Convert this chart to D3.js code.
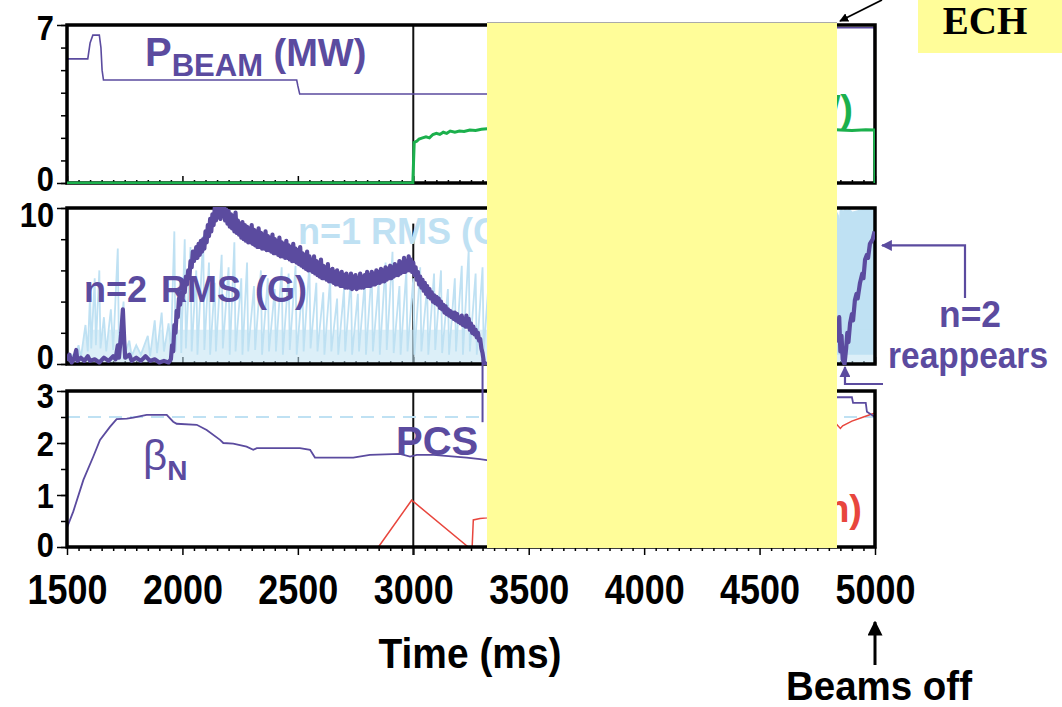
<!DOCTYPE html>
<html><head><meta charset="utf-8">
<script src="https://cdn.jsdelivr.net/npm/d3@7"></script>
<style>body{margin:0;background:#fff} svg{display:block}</style>
</head><body><svg id="c" width="1062" height="707"></svg>
<script>
// ---------------- data ----------------
const timeTicks = [1500, 2000, 2500, 3000, 3500, 4000, 4500, 5000];
const topTickLabels = [0, 7];
const midTickLabels = [0, 10];
const botTickLabels = [0, 1, 2, 3];
const betaRef = 2.5;
const markerTime = 3000;
const pcsTime = 3300;

const pBeam = [[1500,5.5],[1590,5.5],[1600,6.2],[1612,6.55],[1640,6.55],[1647,6.0],[1652,5.0],[1658,4.56],[2495,4.56],[2500,4.3],[2508,3.94],[4800,3.94],[4810,6.88],[4998,6.88],[5000,0]];

const pEch = [[1500,0],[2998,0],[3004,1.8],[3015,1.85],[3025,1.95],[3040,2.0],[3055,2.05],[3070,2.0],[3085,2.15],[3100,2.2],[3115,2.15],[3130,2.25],[3145,2.2],[3160,2.3],[3180,2.25],[3200,2.3],[3220,2.28],[3245,2.35],[3270,2.33],[3295,2.38],[3320,2.4],[4800,2.38],[4850,2.35],[4900,2.33],[4960,2.36],[4998,2.35],[5000,0]];

const n1Rms = [[1500,0.3],[1520,0.6],[1530,0.3],[1550,1.2],[1560,0.4],[1580,2.5],[1590,0.8],[1600,4.5],[1605,1.0],[1620,5.5],[1625,1.2],[1640,6.0],[1645,1.0],[1660,3.0],[1670,0.8],[1690,3.5],[1700,0.9],[1720,7.4],[1725,1.0],[1745,4.0],[1750,0.6],[1770,1.5],[1780,0.5],[1800,1.2],[1820,0.6],[1850,1.8],[1860,0.5],[1880,2.8],[1890,0.7],[1910,3.3],[1920,0.8],[1940,2.6],[1950,1.0],
[1965,8.5],[1970,0.8],[1990,5.5],[1995,0.7],[2010,8.0],[2015,1.0],[2035,7.5],[2040,0.8],[2060,6.0],[2065,0.6],[2090,8.2],[2095,0.9],[2115,6.5],[2120,0.6],[2140,5.2],[2145,0.8],[2170,7.0],[2175,1.0],[2200,6.2],[2205,0.6],[2225,7.8],[2230,0.8],[2255,5.5],[2260,0.6],[2280,6.5],[2285,0.8],[2310,5.0],[2315,0.9],[2340,6.0],[2345,0.6],[2370,5.5],[2375,0.8],[2400,4.8],[2405,0.8],[2430,6.2],[2435,0.6],[2460,5.8],[2465,0.9],[2490,6.3],[2495,0.6],[2520,5.0],[2525,0.8],[2550,6.4],[2555,1.0],[2580,5.2],[2585,0.8],[2610,4.6],[2615,0.6],[2640,5.5],[2645,0.8],[2670,4.2],[2675,0.6],[2700,4.8],[2705,0.8],[2730,5.6],[2735,0.6],[2760,4.5],[2765,0.8],[2790,5.3],[2795,0.6],[2820,6.0],[2825,0.8],[2850,5.2],[2855,0.6],[2880,6.5],[2885,0.9],[2910,7.2],[2915,0.7],[2940,5.0],[2945,0.6],[2970,6.0],[2975,0.8],[3000,5.5],[3005,0.6],[3030,6.2],[3035,0.8],[3060,5.0],[3065,0.6],[3090,5.8],[3095,0.9],[3120,6.0],[3125,0.7],[3150,4.8],[3155,0.6],[3180,5.5],[3185,0.8],[3210,6.3],[3215,0.6],[3240,7.3],[3245,0.8],[3270,5.8],[3275,0.6],[3300,6.2],[3305,0.8],[3330,6.0],
[4830,9.8],[4840,9.5],[4845,8.0],[4850,9.8],[4855,9.9],[4860,9.7],[4870,9.9],[4880,9.8],[4890,9.9],[4900,9.7],[4950,9.9],[5000,9.9]];

const n2Rms = [[1500,0.2],[1510,0.6],[1520,0.1],[1530,0.3],[1540,0.9],[1545,0.2],[1560,0.4],[1575,0.2],[1590,0.5],[1600,0.2],[1620,0.3],[1640,0.1],[1660,0.4],[1680,0.2],[1700,0.5],[1710,0.3],[1720,1.2],[1725,0.4],[1735,2.0],[1742,3.5],[1748,1.5],[1752,0.4],[1770,0.6],[1780,0.2],[1800,0.4],[1820,0.2],[1840,0.5],[1860,0.2],[1880,0.3],[1900,0.1],[1920,0.2],[1940,0.1],
[1950,0.3],[1955,1.2],[1960,0.8],[1965,2.5],[1970,2.0],[1975,3.4],[1980,3.0],[1985,4.2],[1990,3.8],[1995,4.6],[2000,4.1],[2005,5.0],[2010,4.6],[2015,5.6],[2020,5.1],[2025,6.0],[2030,5.5],[2035,6.6],[2040,6.2],[2045,7.2],[2050,6.6],[2060,7.5],[2065,6.8],[2070,7.7],[2075,7.0],[2080,7.9],[2085,7.2],[2090,8.0],[2095,7.4],[2100,8.5],[2105,7.8],[2110,8.9],[2115,8.2],[2120,9.3],[2125,8.5],[2130,9.6],[2135,8.9],[2140,10.0],[2145,9.2],[2150,10.0],[2155,9.4],[2160,10.0],[2165,9.3],[2170,10.0],[2175,9.5],[2180,10.0],[2185,9.2],[2190,9.9],[2195,9.0],[2200,9.8],[2205,8.8],[2210,9.6],[2215,8.7],[2220,9.5],[2225,8.5],[2230,9.7],[2235,8.4],[2240,9.2],[2245,8.3],[2250,9.0],[2255,8.1],[2260,9.1],[2265,8.0],[2270,8.9],[2275,7.9],[2280,8.8],[2285,7.8],[2290,8.7],[2295,7.8],[2300,8.9],[2305,7.7],[2310,8.6],[2315,7.6],[2320,8.5],[2325,7.5],[2330,8.7],[2335,7.5],[2340,8.4],[2345,7.4],[2350,8.3],[2355,7.4],[2360,8.5],[2365,7.3],[2370,8.2],[2375,7.3],[2380,8.1],[2385,7.2],[2390,8.3],[2395,7.1],[2400,8.0],[2405,7.1],[2410,7.9],[2415,7.0],[2420,8.1],[2425,6.9],[2430,7.8],[2435,6.9],[2440,7.7],[2445,6.8],[2450,7.9],[2455,6.8],[2460,7.6],[2465,6.7],[2470,7.5],[2475,6.6],[2480,7.7],[2485,6.6],[2490,7.4],[2495,6.5],[2500,7.3],[2505,6.4],[2510,7.5],[2515,6.3],[2520,7.1],[2525,6.2],[2530,7.0],[2535,6.1],[2540,7.2],[2545,6.0],[2550,6.9],[2555,6.0],[2560,6.7],[2565,5.9],[2570,6.9],[2575,5.8],[2580,6.6],[2585,5.7],[2590,6.5],[2595,5.6],[2600,6.7],[2605,5.5],[2610,6.3],[2615,5.5],[2620,6.2],[2625,5.4],[2630,6.4],[2635,5.3],[2640,6.0],[2645,5.3],[2650,6.1],[2655,5.2],[2660,5.9],[2665,5.1],[2670,6.0],[2675,5.1],[2680,5.8],[2685,5.0],[2690,5.9],[2695,5.0],[2700,5.7],[2705,4.9],[2710,5.8],[2715,4.9],[2720,5.6],[2725,4.9],[2730,5.8],[2735,4.8],[2740,5.6],[2745,4.9],[2750,5.7],[2755,4.8],[2760,5.5],[2765,4.9],[2770,5.8],[2775,4.9],[2780,5.6],[2785,4.9],[2790,5.7],[2795,5.0],[2800,5.9],[2805,5.0],[2810,5.7],[2815,5.0],[2820,5.9],[2825,5.1],[2830,5.8],[2835,5.1],[2840,6.0],[2845,5.2],[2850,5.9],[2855,5.2],[2860,6.1],[2865,5.3],[2870,6.0],[2875,5.3],[2880,6.2],[2885,5.4],[2890,6.1],[2895,5.5],[2900,6.3],[2905,5.5],[2910,6.2],[2915,5.6],[2920,6.4],[2925,5.7],[2930,6.3],[2935,5.7],[2940,6.6],[2945,5.8],[2950,6.5],[2955,5.9],[2960,6.8],[2965,5.9],[2970,6.6],[2975,6.0],[2980,6.9],[2985,6.0],[2990,6.7],[2995,5.9],[3000,6.5],[3005,5.7],[3010,6.2],[3015,5.4],[3020,5.9],[3025,5.1],[3030,5.6],[3035,4.9],[3040,5.4],[3045,4.7],[3050,5.2],[3055,4.5],[3060,5.0],[3065,4.3],[3070,4.8],[3075,4.2],[3080,4.6],[3085,4.0],[3090,4.4],[3095,3.9],[3100,4.3],[3105,3.8],[3110,4.2],[3115,3.6],[3120,4.0],[3125,3.5],[3130,3.8],[3135,3.3],[3140,3.7],[3145,3.2],[3150,3.5],[3155,3.1],[3160,3.4],[3165,3.0],[3170,3.3],[3175,2.9],[3180,3.3],[3185,2.8],[3190,3.2],[3195,2.7],[3200,3.0],[3205,2.6],[3210,3.1],[3215,2.5],[3220,2.9],[3225,2.4],[3230,3.1],[3235,2.4],[3240,2.9],[3245,2.2],[3250,2.6],[3255,2.0],[3260,2.4],[3265,1.9],[3270,2.2],[3275,1.7],[3280,2.0],[3285,1.5],[3290,1.6],[3295,1.0],[3300,0.7],[3305,0.2],[3310,0.0],[4830,2.0],
[4835,2.2],[4840,1.5],[4845,3.0],[4850,0.8],[4855,1.8],[4860,0.3],[4868,0.0],[4875,1.0],[4880,2.0],[4885,1.4],[4892,2.6],[4900,3.2],[4905,2.8],[4913,4.1],[4920,4.5],[4925,4.2],[4935,5.2],[4945,5.8],[4950,5.5],[4957,6.7],[4965,7.0],[4970,6.8],[4978,7.7],[4990,8.0],[4998,8.5]];

const betaN = [[1499,0.36],[1527,0.68],[1571,1.29],[1614,1.74],[1643,2.06],[1686,2.31],[1715,2.46],[1759,2.47],[1787,2.49],[1845,2.54],[1932,2.54],[1960,2.41],[1975,2.37],[2062,2.35],[2105,2.25],[2163,2.06],[2177,2.0],[2220,1.99],[2278,1.93],[2307,1.87],[2322,1.9],[2509,1.9],[2553,1.87],[2574,1.72],[2740,1.72],[2812,1.77],[2942,1.79],[2986,1.74],[3015,1.77],[3087,1.77],[3231,1.72],[3289,1.69],[3318,1.67],[4800,2.88],[4900,2.88],[4905,2.77],[4960,2.77],[4965,2.6],[5000,2.5]];

const redTrace = [[2849,0],[2993,0.9],[3238,0],[3255,0],[3260,0.52],[3289,0.55],[3320,0.56],[4830,2.38],[4850,2.28],[4860,2.33],[4900,2.42],[4950,2.5],[5000,2.58]];

// ---------------- drawing ----------------
const svg = d3.select("#c");
const PURPLE = "#5b4b9f", GREEN = "#1bb04c", LBLUE = "#bfe1f3", RED = "#e8463d";
const sans = "'Liberation Sans',Arial,Helvetica,sans-serif";
function fitW(sel, w) { sel.attr("textLength", w).attr("lengthAdjust", "spacingAndGlyphs"); }
function squeeze(sel, r) {
  sel.each(function () { const w = this.getComputedTextLength(); d3.select(this).attr("textLength", w * r).attr("lengthAdjust", "spacingAndGlyphs"); });
}

const x = d3.scaleLinear().domain([1500, 5000]).range([67, 875]);
const yTop = d3.scaleLinear().domain([0, 7]).range([183, 25]);
const yMid = d3.scaleLinear().domain([0, 10]).range([364, 208]);
const yBot = d3.scaleLinear().domain([0, 3]).range([547, 391]);

const defs = svg.append("defs");
function clip(id, y) {
  defs.append("clipPath").attr("id", id).append("rect")
    .attr("x", x.range()[0]).attr("y", y.range()[1] - 1)
    .attr("width", x.range()[1] - x.range()[0]).attr("height", y.range()[0] - y.range()[1] + 2);
}
clip("cTop", yTop); clip("cMid", yMid); clip("cBot", yBot);
defs.append("clipPath").attr("id", "cMidLow").append("rect")
  .attr("x", x.range()[0]).attr("y", yMid(2.2)).attr("width", x.range()[1] - x.range()[0]).attr("height", yMid(0) - yMid(2.2));
["arrB", "arrP"].forEach((id, i) => {
  defs.append("marker").attr("id", id).attr("viewBox", "0 0 10 10").attr("refX", 9).attr("refY", 5)
    .attr("markerWidth", 5).attr("markerHeight", 5).attr("orient", "auto-start-reverse")
    .append("path").attr("d", "M0,0L10,5L0,10Z").attr("fill", i ? PURPLE : "#000");
});

const minorT = d3.range(1500, 5001, 50);
const minorTicksInside = (g, y) => {
  g.append("g").attr("transform", `translate(0,${y.range()[0]})`)
    .call(d3.axisTop(x).tickValues(minorT.filter(t => t % 500)).tickSize(3).tickFormat(""))
    .call(a => a.select(".domain").remove());
  g.append("g").attr("transform", `translate(0,${y.range()[0]})`)
    .call(d3.axisTop(x).tickValues(timeTicks).tickSize(7).tickFormat(""))
    .call(a => a.select(".domain").remove());
};

function yAxis(y, minor, labels, hiDy, loDy) {
  const g = svg.append("g").attr("transform", `translate(${x.range()[0]},0)`);
  g.append("g").call(d3.axisLeft(y).tickValues(minor).tickSize(6).tickFormat(""))
    .call(a => a.select(".domain").remove());
  const lo = d3.min(labels), hi = d3.max(labels);
  g.append("g").call(d3.axisLeft(y).tickValues(labels).tickSize(10).tickPadding(3).tickFormat(d3.format("d")))
    .call(a => a.select(".domain").remove())
    .call(a => a.selectAll("text").attr("font-family", sans).attr("font-weight", "bold")
      .attr("font-size", 35).attr("fill", "#000")
      .attr("dy", d => (d === hi ? hiDy : d === lo ? loDy : 0.37) + "em")
      .call(s => squeeze(s, 0.88)));
  g.selectAll("line").attr("stroke", "#000").attr("stroke-width", 1.5);
}
yAxis(yTop, d3.range(0, 8, 1), topTickLabels, 0.41, 0.2);
yAxis(yMid, d3.range(0, 11, 2), midTickLabels, 0.53, 0.14);
yAxis(yBot, d3.range(0, 3.01, 0.5), botTickLabels, 0.46, 0.27);

// x ticks
const tg = svg.append("g");
minorTicksInside(tg, yTop);
minorTicksInside(tg, yMid);
tg.append("g").attr("transform", `translate(0,${yBot.range()[0]})`)
  .call(d3.axisBottom(x).tickValues(minorT.filter(t => t % 500)).tickSize(4).tickFormat(""))
  .call(a => a.select(".domain").remove());
tg.append("g").attr("transform", `translate(0,${yBot.range()[0]})`)
  .call(d3.axisBottom(x).tickValues(timeTicks).tickSize(8).tickPadding(18).tickFormat(d3.format("d")))
  .call(a => a.select(".domain").remove())
  .call(a => a.selectAll("text").attr("font-family", sans).attr("font-weight", "bold")
    .attr("font-size", 43).attr("fill", "#000").attr("dy", "0.71em").call(s => fitW(s, 80)));
tg.selectAll("line").attr("stroke", "#000").attr("stroke-width", 1.5);

// 3000 ms marker
svg.append("line").attr("x1", x(markerTime)).attr("x2", x(markerTime)).attr("y1", yTop(7)).attr("y2", yTop(0)).attr("stroke", "#111").attr("stroke-width", 2);
svg.append("line").attr("x1", x(markerTime)).attr("x2", x(markerTime)).attr("y1", yMid(9)).attr("y2", yMid(0)).attr("stroke", "#111").attr("stroke-width", 2);
svg.append("line").attr("x1", x(markerTime)).attr("x2", x(markerTime)).attr("y1", yBot(3)).attr("y2", yBot(0) + 8).attr("stroke", "#111").attr("stroke-width", 2);

const line = (y) => d3.line().x(d => x(d[0])).y(d => y(d[1]));

// top panel
const gt = svg.append("g").attr("clip-path", "url(#cTop)");
gt.append("path").datum(pBeam).attr("d", line(yTop)).attr("fill", "none").attr("stroke", PURPLE).attr("stroke-width", 1.6);
// middle panel: n=1 RMS
const gm = svg.append("g").attr("clip-path", "url(#cMid)");
gm.append("path").datum(n1Rms.filter(d => d[0] > 4800))
  .attr("d", d3.area().x(d => x(d[0])).y0(yMid(0.6)).y1(d => yMid(d[1]))).attr("fill", LBLUE);
svg.append("g").attr("clip-path", "url(#cMidLow)").append("path").datum(n1Rms)
  .attr("d", d3.area().x(d => x(d[0])).y0(yMid(0)).y1(d => yMid(d[1]))).attr("fill", LBLUE).attr("fill-opacity", 0.55);
gm.append("path").datum(n1Rms).attr("d", line(yMid)).attr("fill", "none").attr("stroke", LBLUE).attr("stroke-width", 1.8);
// bottom panel
const gb = svg.append("g").attr("clip-path", "url(#cBot)");
gb.append("line").attr("x1", x(1500)).attr("x2", x(5000)).attr("y1", yBot(betaRef)).attr("y2", yBot(betaRef))
  .attr("stroke", LBLUE).attr("stroke-width", 2).attr("stroke-dasharray", "13,8");
gb.append("path").datum(redTrace).attr("d", line(yBot)).attr("fill", "none").attr("stroke", RED).attr("stroke-width", 1.5);
gb.append("path").datum(betaN).attr("d", line(yBot)).attr("fill", "none").attr("stroke", PURPLE).attr("stroke-width", 1.8);

// frames
[yTop, yMid, yBot].forEach(y => {
  svg.append("rect").attr("x", x.range()[0]).attr("y", y.range()[1])
    .attr("width", x.range()[1] - x.range()[0]).attr("height", y.range()[0] - y.range()[1])
    .attr("fill", "none").attr("stroke", "#000").attr("stroke-width", 3.5);
});
svg.append("g").attr("clip-path", "url(#cTop)").append("path").datum(pEch).attr("d", line(yTop)).attr("fill", "none")
  .attr("stroke", GREEN).attr("stroke-width", 3);
svg.append("g").attr("clip-path", "url(#cMid)").append("path").datum(n2Rms).attr("d", line(yMid)).attr("fill", "none")
  .attr("stroke", PURPLE).attr("stroke-width", 4.2).attr("stroke-linejoin", "round");

// PCS drop line
svg.append("line").attr("x1", x(pcsTime)).attr("x2", x(pcsTime)).attr("y1", yMid(0.3)).attr("y2", yBot(2.4))
  .attr("stroke", PURPLE).attr("stroke-width", 2);

// in-panel labels
const t1 = svg.append("text").attr("x", 145).attr("y", 66).attr("fill", PURPLE).attr("font-family", sans).attr("font-weight", "bold");
t1.append("tspan").attr("font-size", 40).text("P");
t1.append("tspan").attr("font-size", 31).attr("dy", 10).text("BEAM");
t1.append("tspan").attr("font-size", 38).attr("dy", -10).text(" (MW)");

const t2 = svg.append("text").attr("x", 853).attr("y", 122).attr("text-anchor", "end").attr("fill", GREEN).attr("font-family", sans).attr("font-weight", "bold");
t2.append("tspan").attr("font-size", 40).text("P");
t2.append("tspan").attr("font-size", 31).attr("dy", 10).text("ECH");
t2.append("tspan").attr("font-size", 38).attr("dy", -10).text(" (MW)");

svg.append("text").attr("x", 298).attr("y", 244).attr("fill", LBLUE).attr("font-family", sans).attr("font-weight", "bold").attr("font-size", 36).text("n=1 RMS (G)");
svg.append("text").attr("x", 84).attr("y", 302).attr("fill", PURPLE).attr("font-family", sans).attr("font-weight", "bold").attr("font-size", 36).attr("word-spacing", 4).text("n=2 RMS (G)");

const t3 = svg.append("text").attr("x", 143).attr("y", 470).attr("fill", PURPLE).attr("font-family", sans);
t3.append("tspan").attr("font-size", 42).text("β");
t3.append("tspan").attr("font-size", 28).attr("font-weight", "bold").attr("dy", 10).text("N");
svg.append("text").attr("x", 396).attr("y", 455).attr("fill", PURPLE).attr("font-family", sans).attr("font-weight", "bold").attr("font-size", 40).text("PCS");
svg.append("text").attr("x", 862).attr("y", 522).attr("text-anchor", "end").attr("fill", RED).attr("font-family", sans).attr("font-weight", "bold").attr("font-size", 38).text("(min)");

// annotation n=2 reappears
svg.append("path").attr("d", `M965,298V${yMid(7.6)}H${x(5000) + 7}`).attr("fill", "none").attr("stroke", PURPLE).attr("stroke-width", 2.2).attr("marker-end", "url(#arrP)");
svg.append("path").attr("d", `M${x(5000) + 8},${yBot(3) - 7}H${x(4870)}V${yMid(0) + 3}`).attr("fill", "none").attr("stroke", PURPLE).attr("stroke-width", 2.2).attr("marker-end", "url(#arrP)");
svg.append("text").attr("x", 970).attr("y", 327).attr("text-anchor", "middle").attr("fill", PURPLE).attr("font-family", sans).attr("font-weight", "bold").attr("font-size", 37).text("n=2").call(s => fitW(s, 62));
svg.append("text").attr("x", 968).attr("y", 368).attr("text-anchor", "middle").attr("fill", PURPLE).attr("font-family", sans).attr("font-weight", "bold").attr("font-size", 36).text("reappears").call(s => fitW(s, 160));

// yellow covering box
svg.append("rect").attr("x", 487).attr("y", 22).attr("width", 350).attr("height", 526).attr("fill", "#fffd99");
svg.append("line").attr("x1", 487).attr("x2", 837).attr("y1", 22.5).attr("y2", 22.5).attr("stroke", "#aaa").attr("stroke-width", 1);

// ECH label
svg.append("rect").attr("x", 918).attr("y", 0).attr("width", 144).attr("height", 53).attr("fill", "#fffd99");
svg.append("text").attr("x", 985).attr("y", 34).attr("text-anchor", "middle").attr("font-family", "'Liberation Serif','Times New Roman',serif")
  .attr("font-weight", "bold").attr("font-size", 39).attr("fill", "#000").text("ECH");
svg.append("line").attr("x1", 882).attr("y1", 0).attr("x2", 840).attr("y2", 21).attr("stroke", "#000").attr("stroke-width", 1.8).attr("marker-end", "url(#arrB)");

// axis title + beams off
svg.append("text").attr("x", 470).attr("y", 668).attr("text-anchor", "middle").attr("font-family", sans).attr("font-weight", "bold").attr("font-size", 42).attr("fill", "#000").text("Time (ms)").call(s => fitW(s, 183));
svg.append("line").attr("x1", x(5000)).attr("x2", x(5000)).attr("y1", 665).attr("y2", 622).attr("stroke", "#000").attr("stroke-width", 3).attr("marker-end", "url(#arrB)");
svg.append("text").attr("x", 879).attr("y", 700).attr("text-anchor", "middle").attr("font-family", sans).attr("font-weight", "bold").attr("font-size", 40).attr("fill", "#000").text("Beams off").call(s => fitW(s, 186));
</script></body></html>
